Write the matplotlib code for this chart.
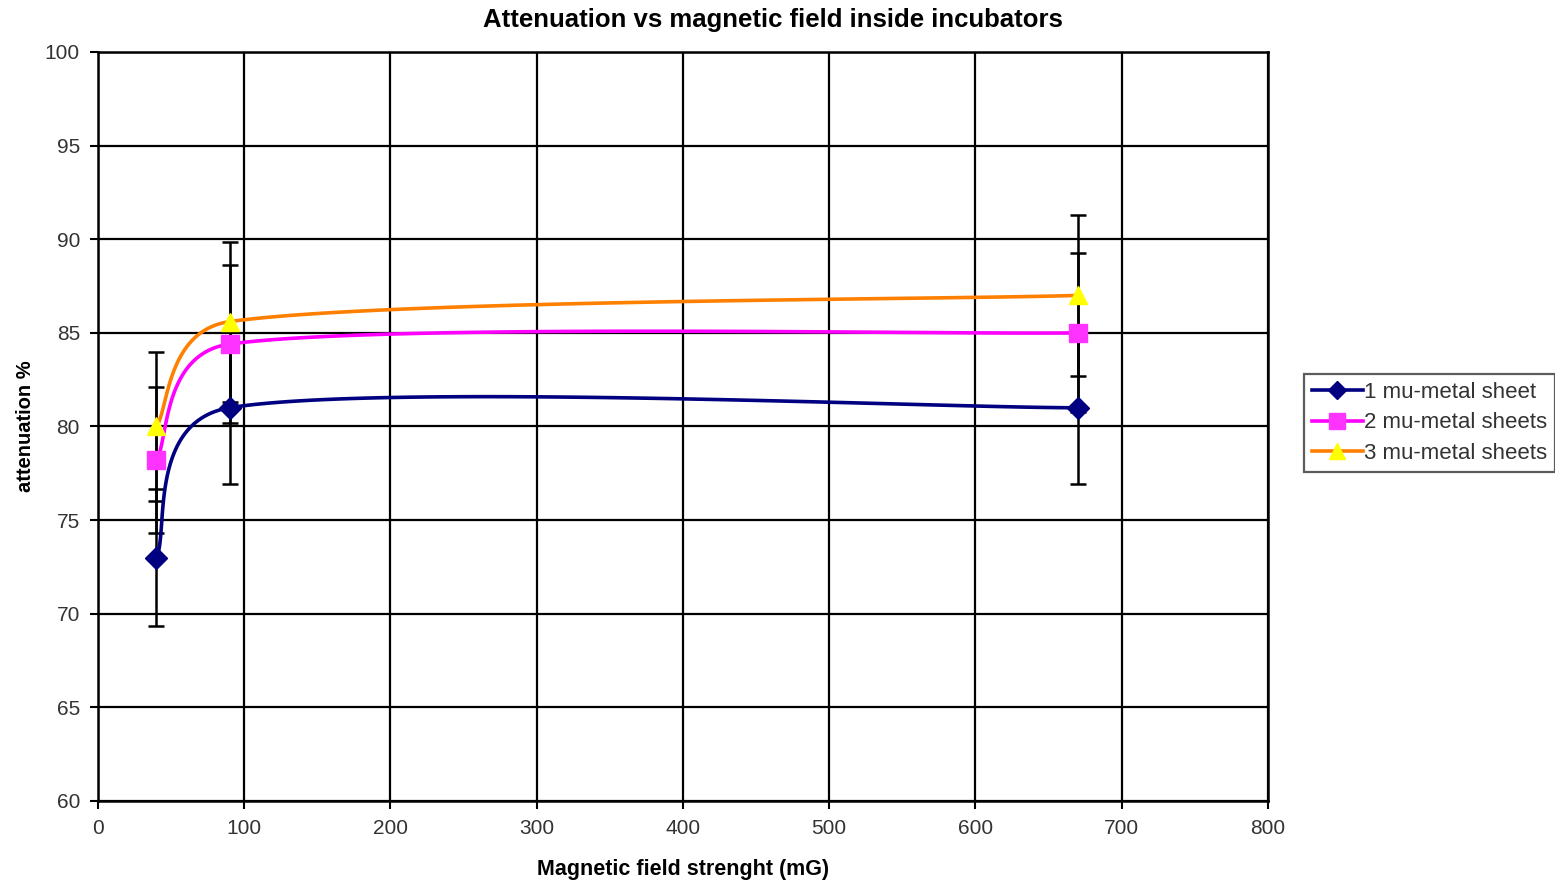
import numpy as np
import matplotlib
matplotlib.use('Agg')
import matplotlib.pyplot as plt
from matplotlib.lines import Line2D

plt.rcParams['font.family'] = ['Liberation Sans', 'DejaVu Sans']

# data
field = [40, 90, 670]
one_sheet = [73.0, 81.0, 81.0]
two_sheets = [78.2, 84.4, 85.0]
three_sheets = [80.0, 85.6, 87.0]
err_one = [3.65, 4.07, 4.07]
err_two = [3.9, 4.2, 4.25]
err_three = [4.0, 4.27, 4.3]
labels = ['1 mu-metal sheet', '2 mu-metal sheets', '3 mu-metal sheets']


def excel_smooth(ax, xs, ys, n=60):
    """Bezier smoothing like Excel's 'smoothed line', done in pixel space"""
    pts = ax.transData.transform(np.column_stack([xs, ys]))
    out = [pts[0]]
    m = len(pts)
    for i in range(m - 1):
        p0 = pts[max(i - 1, 0)]
        p1 = pts[i]
        p2 = pts[i + 1]
        p3 = pts[min(i + 2, m - 1)]
        d12 = np.hypot(*(p2 - p1))
        t1 = p2 - p0
        t2 = p3 - p1
        d02 = np.hypot(*t1)
        d13 = np.hypot(*t2)
        if d02 / 6 < d12 / 2:
            c1 = p1 + t1 / 6
        else:
            c1 = p1 + t1 * (d12 / 2) / d02
        if d13 / 6 < d12 / 2:
            c2 = p2 - t2 / 6
        else:
            c2 = p2 - t2 * (d12 / 2) / d13
        t = np.linspace(0, 1, n)[1:, None]
        seg = ((1 - t) ** 3) * p1 + 3 * ((1 - t) ** 2) * t * c1 + 3 * (1 - t) * t ** 2 * c2 + t ** 3 * p2
        out.extend(seg)
    out = np.array(out)
    return ax.transData.inverted().transform(out)


fig = plt.figure(figsize=(15.55, 8.84), dpi=100)
ax = fig.add_axes([0.063, 0.0939, 0.7523, 0.8473])
ax.set_xlim(0, 800)
ax.set_ylim(60, 100)
ax.set_xticks(range(0, 801, 100))
ax.set_yticks(range(60, 101, 5))
ax.grid(True, color='black', linewidth=1.6)
ax.set_axisbelow(True)
for s in ax.spines.values():
    s.set_linewidth(1.8)
ax.tick_params(direction='out', length=6, width=1.5, labelsize=15, labelcolor='#333333', pad=7)

series = [
    (one_sheet, err_one, '#000080', '#000080', 'D', 11),
    (two_sheets, err_two, '#ff00ff', '#ff33ff', 's', 13),
    (three_sheets, err_three, '#ff8000', '#ffff00', '^', 13),
]

handles = []
for (ys, err, lc, mc, mk, ms), lab in zip(series, labels):
    ax.errorbar(field, ys, yerr=err, fmt='none', ecolor='black', elinewidth=1.8,
                capsize=6, capthick=1.8, zorder=3)
for (ys, err, lc, mc, mk, ms), lab in zip(series, labels):
    curve = excel_smooth(ax, field, ys)
    ax.plot(curve[:, 0], curve[:, 1], color=lc, linewidth=2.6, zorder=4)
    ax.plot(field, ys, linestyle='none', marker=mk, markersize=ms, color=mc,
            markeredgecolor=mc, zorder=5)
    handles.append(Line2D([], [], color=lc, linewidth=2.6, marker=mk, markersize=ms - 2,
                          markerfacecolor=mc, markeredgecolor=mc))

fig.suptitle('Attenuation vs magnetic field inside incubators', x=0.497, y=0.991,
             fontsize=18.5, fontweight='bold', va='top')
ax.set_xlabel('Magnetic field strenght (mG)', fontsize=15.5, fontweight='bold', labelpad=15)
ax.set_ylabel('attenuation %', fontsize=14.5, fontweight='bold', labelpad=7)

leg = fig.legend(handles, labels, loc='center left', bbox_to_anchor=(0.8385, 0.5215),
                 fontsize=16, frameon=True, fancybox=False, handlelength=2.3,
                 handletextpad=0.05, borderpad=0.35, labelspacing=0.42, borderaxespad=0)
leg.get_frame().set_edgecolor('#333333')
leg.get_frame().set_linewidth(1.6)
for t in leg.get_texts():
    t.set_color('#333333')

fig.savefig('out.png', dpi=100)
